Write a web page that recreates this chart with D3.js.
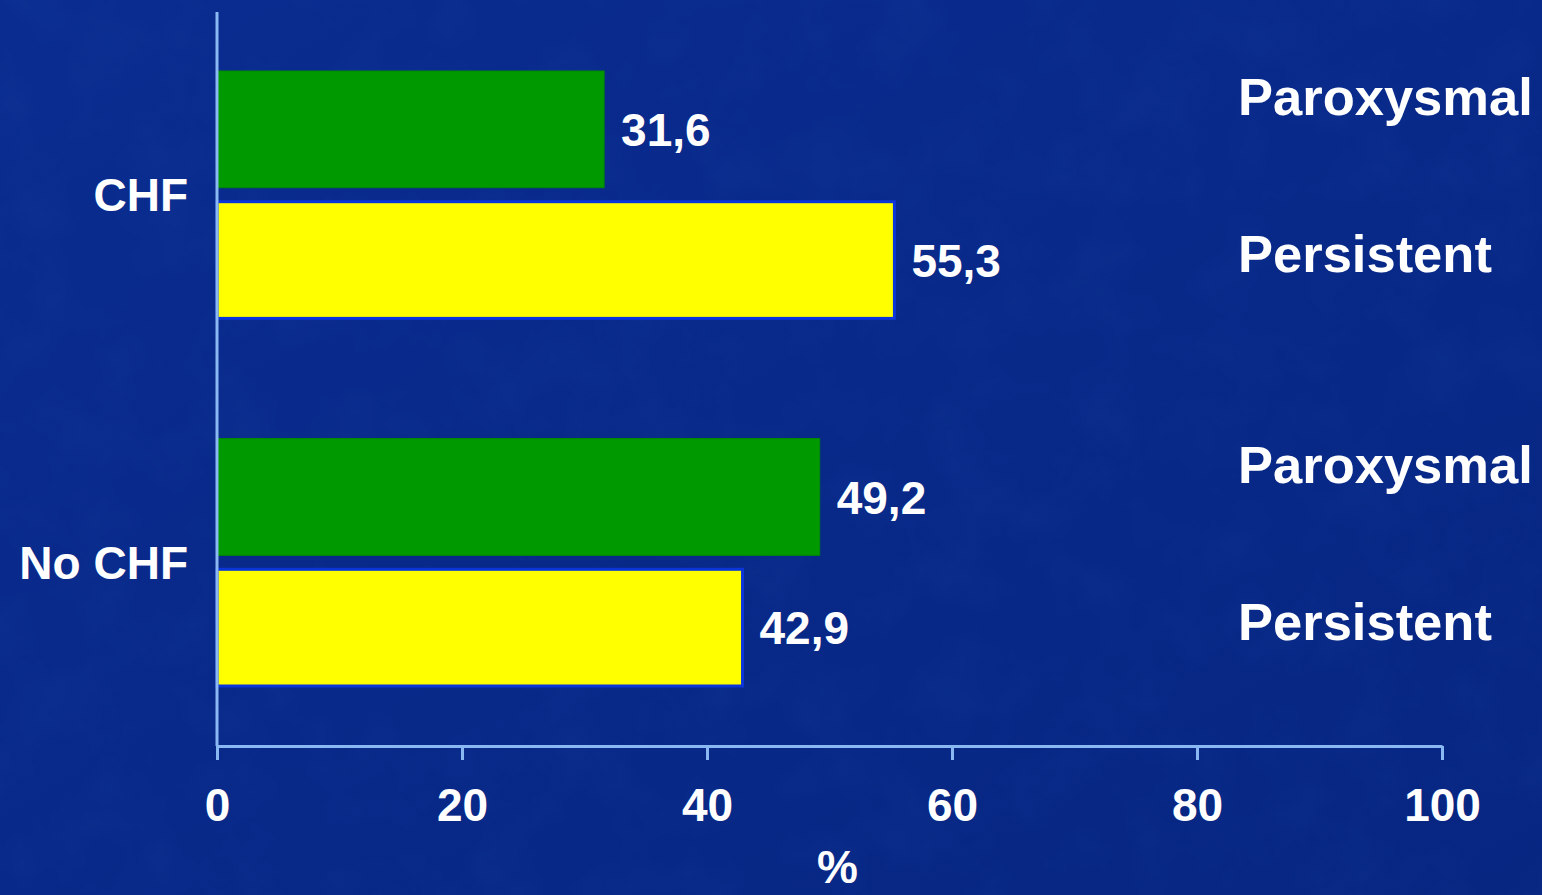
<!DOCTYPE html>
<html>
<head>
<meta charset="utf-8">
<script src="https://cdn.jsdelivr.net/npm/d3@7"></script>
<style>
  html, body { margin: 0; padding: 0; background: #08298a; overflow: hidden; }
  svg { display: block; }
  text { font-family: "Liberation Sans", Arial, Helvetica, sans-serif; font-weight: bold; fill: #ffffff; }
</style>
</head>
<body>
<script>
// Chart data
const groups = ["CHF", "No CHF"];
const series = ["Paroxysmal", "Persistent"];
const valuesParoxysmal = [31.6, 49.2];
const valuesPersistent = [55.3, 42.9];
const xTicks = [0, 20, 40, 60, 80, 100];
const axisTitle = "%";

const seriesValues = [valuesParoxysmal, valuesPersistent];
const seriesFill = ["#009900", "#ffff00"];
const seriesStroke = ["#008a00", "#0a35d8"];

const W = 1542, H = 895;
const svg = d3.select("body").append("svg").attr("width", W).attr("height", H);

// Background with a faint mottled texture
const defs = svg.append("defs");
const grad = defs.append("linearGradient").attr("id", "bg").attr("x1", 0).attr("y1", 0).attr("x2", 1).attr("y2", 1);
grad.append("stop").attr("offset", 0).attr("stop-color", "#0a2c90");
grad.append("stop").attr("offset", 1).attr("stop-color", "#072682");
const filt = defs.append("filter").attr("id", "mottle").attr("x", 0).attr("y", 0).attr("width", 1).attr("height", 1);
filt.append("feTurbulence").attr("type", "fractalNoise").attr("baseFrequency", 0.015).attr("numOctaves", 4).attr("seed", 7);
filt.append("feColorMatrix").attr("type", "matrix")
  .attr("values", "0 0 0 0 0.05  0 0 0 0 0.2  0 0 0 0 0.6  0 0 0 0.5 -0.2");
svg.append("rect").attr("width", W).attr("height", H).attr("fill", "url(#bg)");
svg.append("rect").attr("width", W).attr("height", H).attr("filter", "url(#mottle)").attr("opacity", 0.22);

// Scales
const x = d3.scaleLinear().domain([0, 100]).range([217, 1442]);
const y0 = d3.scaleBand().domain(groups).range([71, 686]).paddingInner(0.327).paddingOuter(0);
const y1 = d3.scaleBand().domain(series).range([0, y0.bandwidth()]).paddingInner(0.107);

const axisColor = "#8ab8f2";
const axisY = 746;

// Bars with value labels
groups.forEach((g, gi) => {
  series.forEach((s, si) => {
    const v = seriesValues[si][gi];
    const top = y0(g) + y1(s);
    svg.append("rect")
      .attr("x", x(0))
      .attr("y", top)
      .attr("width", x(v) - x(0))
      .attr("height", y1.bandwidth())
      .attr("fill", seriesFill[si])
      .attr("stroke", seriesStroke[si])
      .attr("stroke-width", si === 1 ? 3 : 1);
    svg.append("text")
      .attr("x", x(v) + 17)
      .attr("y", top + y1.bandwidth() / 2)
      .attr("dy", "0.36em")
      .attr("font-size", 46)
      .text(d3.format(".1f")(v).replace(".", ","));
  });
});

// Series labels on the right
const seriesLabelOffset = [-33, -7];
groups.forEach((g) => {
  series.forEach((s, si) => {
    svg.append("text")
      .attr("x", 1238)
      .attr("y", y0(g) + y1(s) + y1.bandwidth() / 2 + seriesLabelOffset[si])
      .attr("dy", "0.36em")
      .attr("font-size", 52.5)
      .text(s);
  });
});

// Group labels
groups.forEach((g) => {
  svg.append("text")
    .attr("x", 188)
    .attr("y", y0(g) + y0.bandwidth() / 2)
    .attr("dy", "0.36em")
    .attr("text-anchor", "end")
    .attr("font-size", 46)
    .text(g);
});

// Axes
const xAxis = d3.axisBottom(x).tickValues(xTicks).tickSize(14).tickSizeOuter(0).tickFormat(d3.format("d"));
const gx = svg.append("g").attr("transform", `translate(0,${axisY})`).call(xAxis);
gx.select(".domain").attr("stroke", axisColor).attr("stroke-width", 3);
gx.selectAll(".tick line").attr("stroke", axisColor).attr("stroke-width", 3);
gx.selectAll(".tick text")
  .attr("y", 58)
  .attr("dy", "0.36em")
  .attr("font-size", 46)
  .attr("font-family", "'Liberation Sans', Arial, sans-serif")
  .attr("font-weight", "bold")
  .attr("fill", "#ffffff");

svg.append("line")
  .attr("x1", x(0)).attr("x2", x(0))
  .attr("y1", 12).attr("y2", axisY)
  .attr("stroke", axisColor).attr("stroke-width", 3);

// Axis title
svg.append("text")
  .attr("x", x(50) + 8)
  .attr("y", 883)
  .attr("text-anchor", "middle")
  .attr("font-size", 46)
  .text(axisTitle);
</script>
</body>
</html>
